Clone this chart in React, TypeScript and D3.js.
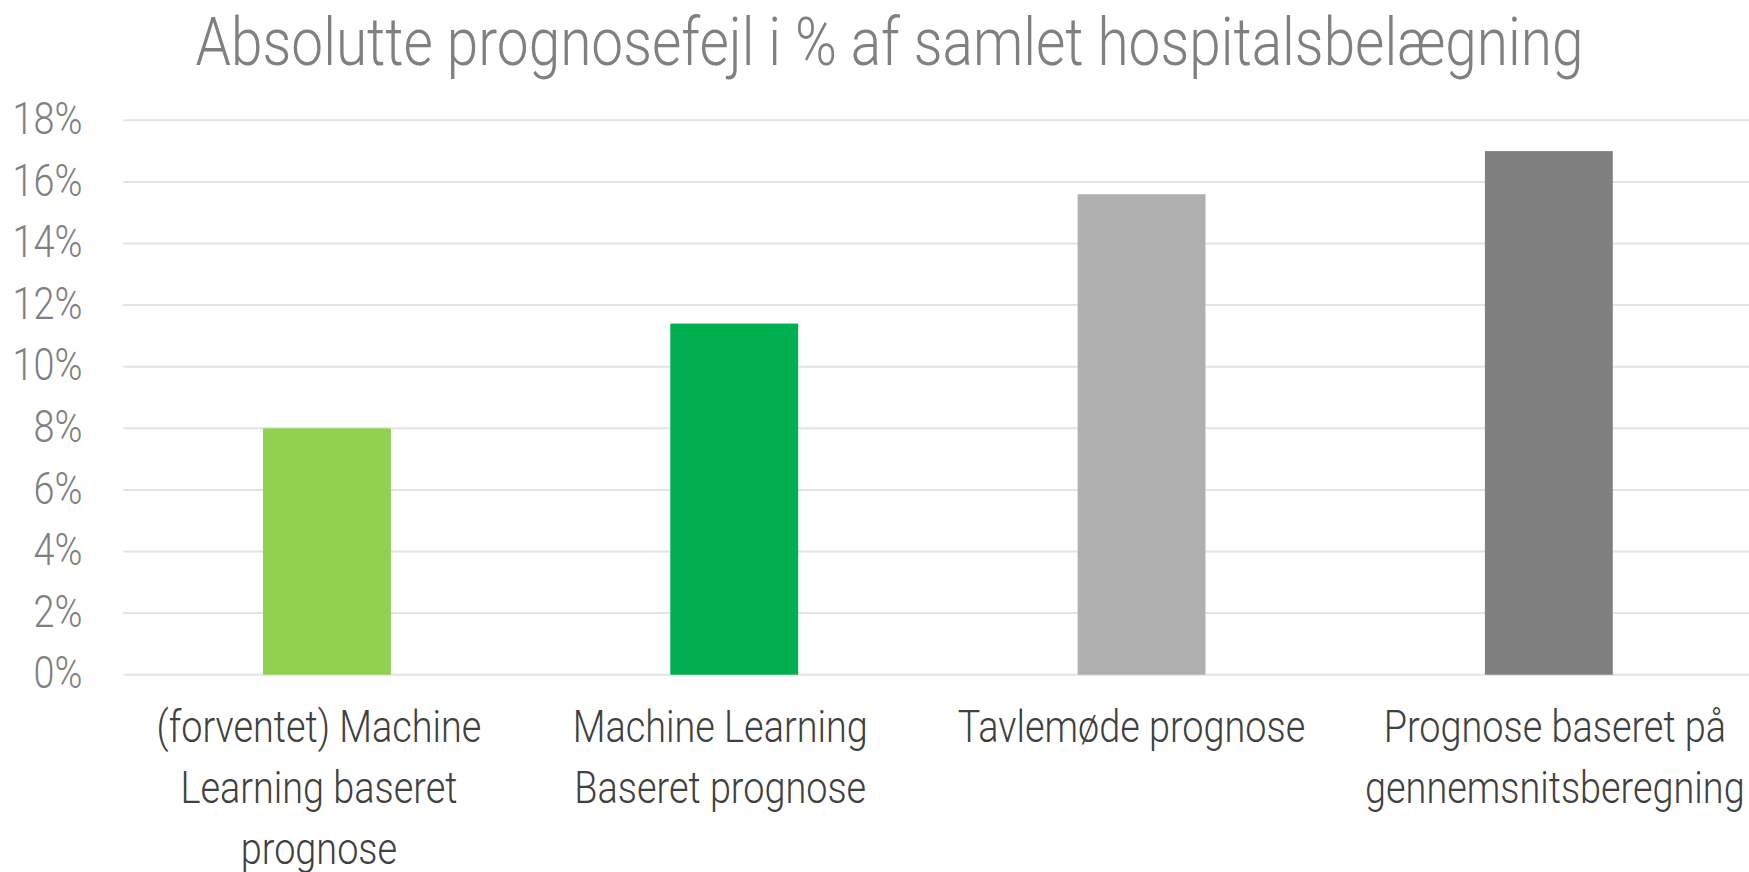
import { useEffect, useRef } from "react";
import * as d3 from "d3";

// chart data
const categories = [
  "(forventet) Machine Learning baseret prognose",
  "Machine Learning Baseret prognose",
  "Tavlemøde prognose",
  "Prognose baseret på gennemsnitsberegning",
];
const labelLines = [
  ["(forventet) Machine", "Learning baseret", "prognose"],
  ["Machine Learning", "Baseret prognose"],
  ["Tavlemøde prognose"],
  ["Prognose baseret på", "gennemsnitsberegning"],
];
const values = [8.0, 11.4, 15.6, 17.0];
const barColors = ["#92D050", "#00B050", "#B0B0B0", "#7F7F7F"];
const yTicks = [0, 2, 4, 6, 8, 10, 12, 14, 16, 18];
const title = "Absolutte prognosefejl i % af samlet hospitalsbelægning";

const App = () => {
  const ref = useRef<SVGSVGElement>(null);

  useEffect(() => {
    draw();
  }, []);

  const draw = () => {
    const width = 1749;
    const height = 872;
    const margin = { top: 120.3, right: -3.5, bottom: 197.3, left: 123.3 };
    const font = "Roboto, 'Liberation Sans', sans-serif";
    const squeeze = 0.86; // roboto condensed look
    // excel nudges the wrapped labels a little off the bar centres
    const labelNudge = [-8, -14, -10, 6];

    const svg = d3.select(ref.current).attr("width", width).attr("height", height);
    svg.selectAll("*").remove();

    const xScale = d3
      .scaleBand()
      .domain(categories)
      .range([margin.left, width - margin.right])
      .paddingInner(0.686)
      .paddingOuter(0.343);

    const yScale = d3
      .scaleLinear()
      .domain([0, 18])
      .range([height - margin.bottom, margin.top]);

    // gridlines
    svg
      .append("g")
      .selectAll("line")
      .data(yTicks)
      .join("line")
      .attr("x1", margin.left)
      .attr("x2", width)
      .attr("y1", (d) => yScale(d))
      .attr("y2", (d) => yScale(d))
      .attr("stroke", "#e3e3e3")
      .attr("stroke-width", 2);

    // y tick labels
    svg
      .append("g")
      .selectAll("text")
      .data(yTicks)
      .join("text")
      .attr("transform", (d) => `translate(82.5,${yScale(d) + 2}) scale(${squeeze},1)`)
      .attr("text-anchor", "end")
      .attr("dominant-baseline", "middle")
      .attr("font-family", font)
      .attr("font-weight", 300)
      .attr("font-size", 44)
      .attr("fill", "#808080")
      .text((d) => d + "%");

    // bars
    svg
      .append("g")
      .selectAll("rect")
      .data(values)
      .join("rect")
      .attr("x", (d, i) => xScale(categories[i])!)
      .attr("width", xScale.bandwidth())
      .attr("y", (d) => yScale(d))
      .attr("height", (d) => yScale(0) - yScale(d))
      .attr("fill", (d, i) => barColors[i]);

    // category labels
    const labels = svg
      .append("g")
      .selectAll("text")
      .data(labelLines)
      .join("text")
      .attr(
        "transform",
        (d, i) =>
          `translate(${xScale(categories[i])! + xScale.bandwidth() / 2 + labelNudge[i]},741.7) scale(${squeeze},1)`
      )
      .attr("text-anchor", "middle")
      .attr("font-family", font)
      .attr("font-weight", 300)
      .attr("font-size", 44)
      .attr("fill", "#404040");

    labels
      .selectAll("tspan")
      .data((d) => d)
      .join("tspan")
      .attr("x", 0)
      .attr("y", (d, i) => i * 61.4)
      .text((d) => d);

    // title
    svg
      .append("text")
      .attr("transform", `translate(889.5,64.7) scale(${squeeze},1)`)
      .attr("text-anchor", "middle")
      .attr("font-family", font)
      .attr("font-weight", 300)
      .attr("font-size", 66)
      .attr("fill", "#808080")
      .text(title);
  };

  return (
    <div style={{ position: "absolute", left: 0, top: 0 }}>
      <svg ref={ref} style={{ display: "block", background: "#fff" }}></svg>
    </div>
  );
};

export default App;
